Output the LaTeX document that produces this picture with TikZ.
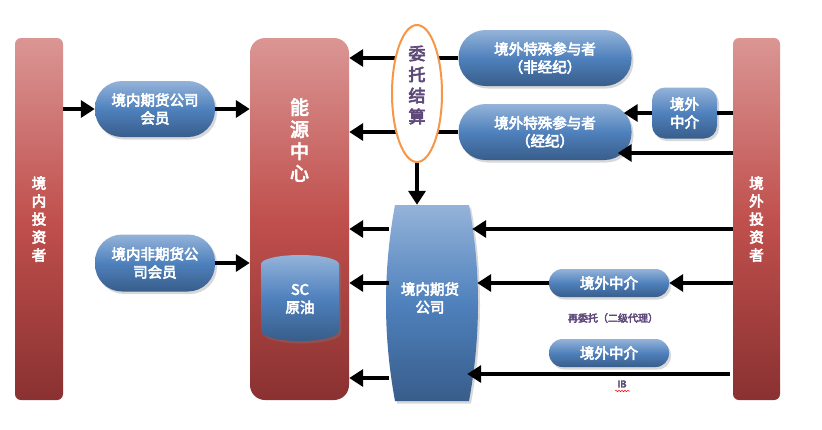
\documentclass[tikz,border=0pt]{standalone}
\usepackage{fontspec}
\setmainfont{Noto Sans CJK SC}[BoldFont={Noto Sans CJK SC}, BoldFeatures={FakeBold=4}]
\usetikzlibrary{arrows.meta,shapes.geometric,shadows,decorations.pathmorphing}
\definecolor{redtop}{HTML}{DA9694}
\definecolor{redmid}{HTML}{C0504D}
\definecolor{redbot}{HTML}{8A3131}
\definecolor{bluetop}{HTML}{94B3D9}
\definecolor{bluemid}{HTML}{4F81BD}
\definecolor{bluebot}{HTML}{385D8A}
\definecolor{purp}{HTML}{5F497A}
\definecolor{orng}{HTML}{F79646}
\begin{document}
\begin{tikzpicture}[x=1pt,y=-1pt,
  redbar/.style={rectangle, inner sep=0pt, top color=redtop, bottom color=redbot, middle color=redmid},
  bluebox/.style={rectangle, inner sep=0pt, top color=bluetop, bottom color=bluebot, middle color=bluemid,
     drop shadow={shadow xshift=2pt, shadow yshift=-2.5pt, opacity=0.3}},
  wtext/.style={text=white, align=center, font=\bfseries\fontsize{14.5}{18}\selectfont},
  ptext/.style={text=purp, align=center},
  flow/.style={line width=4.5pt, -{Triangle[length=14pt,width=17pt]}},
  plainline/.style={line width=4.5pt}]
\fill[white] (0,0) rectangle (822,429);
\useasboundingbox (0,0) rectangle (822,429);

% red bars
\node[redbar, rounded corners=6pt, minimum width=48pt, minimum height=362pt, wtext] (lb) at (39,219) {境\\内\\投\\资\\者};
\node[redbar, rounded corners=15pt, minimum width=99pt, minimum height=362pt] (ec) at (299.5,219) {};
\node[wtext, font=\bfseries\fontsize{19}{22}\selectfont] (ect) at (299.5,140) {能\\源\\中\\心};
\node[redbar, rounded corners=6pt, minimum width=47pt, minimum height=362pt, wtext] (rb) at (756.5,219) {境\\外\\投\\资\\者};

% SC cylinder
\path[top color=bluetop, bottom color=bluebot, middle color=bluemid,
      drop shadow={shadow xshift=2pt, shadow yshift=-2.5pt, opacity=0.3}]
  (261,264) -- (261,331) arc[start angle=180, end angle=0, x radius=39, y radius=10]
  -- (339,264) arc[start angle=0, end angle=-180, x radius=39, y radius=9] -- cycle;
\node[wtext] (sc) at (300,299) {SC\\原油};

% left members
\node[bluebox, rounded corners=27pt, minimum width=120pt, minimum height=56pt, wtext] (m1) at (155,109) {境内期货公司\\会员};
\node[bluebox, rounded corners=27pt, minimum width=120pt, minimum height=57pt, wtext] (m2) at (155,263) {境内非期货公\\司会员};

% special participants
\node[bluebox, rounded corners=27pt, minimum width=173pt, minimum height=56pt, wtext] (sp1) at (545,58) {境外特殊参与者\\（非经纪）};
\node[bluebox, rounded corners=27pt, minimum width=173pt, minimum height=56pt, wtext] (sp2) at (545,132) {境外特殊参与者\\（经纪）};
\node[bluebox, rounded corners=13pt, minimum width=65pt, minimum height=51pt, wtext] (im1) at (684.5,113) {境外\\中介};

% domestic futures company (barrel)
\path[top color=bluetop, bottom color=bluebot, middle color=bluemid,
      drop shadow={shadow xshift=2pt, shadow yshift=-2.5pt, opacity=0.3}]
  (395,205) -- (469,205) .. controls (481,270) and (481,336) .. (469,401)
  -- (395,401) .. controls (383,336) and (383,270) .. (395,205) -- cycle;
\node[minimum width=86pt, minimum height=196pt, inner sep=0pt] (dc) at (432,303) {};
\node[wtext] (dct) at (430,298) {境内期货\\公司};

% overseas intermediaries
\node[bluebox, rounded corners=13.5pt, minimum width=120pt, minimum height=28pt, wtext] (im2) at (609,283) {境外中介};
\node[bluebox, rounded corners=13.5pt, minimum width=120pt, minimum height=28pt, wtext] (im3) at (609,353) {境外中介};
\node[ptext, font=\bfseries\fontsize{10}{12}\selectfont] (rw) at (613,318) {再委托（二级代理）};
\node[ptext, font=\bfseries\fontsize{9.5}{11}\selectfont, inner sep=1pt] (ib) at (622,384) {IB};
\draw[red, line width=0.5pt, decorate, decoration={snake, amplitude=0.8pt, segment length=3pt}] (615,391) -- (630,391);

% connectors left
\draw[flow] (lb.east |- m1) -- (m1.west);
\draw[flow] (m1.east) -- (ec.west |- m1);
\draw[flow] (m2.east) -- (ec.west |- m2);

% special participants to energy center (through oval)
\draw[flow] (sp1.west) -- (ec.east |- sp1);
\draw[flow] (sp2.west) -- (ec.east |- sp2);

% oval
\node[ellipse, draw=orng, line width=2pt, fill=white, minimum width=50pt, minimum height=137pt, inner sep=0pt] (ov) at (417,93.5) {};
\node[ptext, font=\bfseries\fontsize{17}{21}\selectfont] (ovt) at (417,85) {委\\托\\结\\算};
\draw[flow] (ov.south) -- (ov.south |- dc.north);

% right side
\draw[plainline] (rb.west |- im1) -- (im1.east);
\draw[flow] (im1.west) -- ([xshift=-8pt]sp2.east |- im1);
\draw[flow] (rb.west |- 0,153) -- ([xshift=-14pt]sp2.east |- 0,153);

\draw[flow] (rb.west |- 0,229) -- ([xshift=-3pt]dc.east |- 0,229);
\draw[flow] (rb.west |- im2) -- (im2.east);
\draw[flow] (im2.west) -- ([xshift=2pt]dc.east |- im2);
\draw[flow] ([xshift=-3pt]rb.west |- 0,374) -- ([xshift=-8pt]dc.east |- 0,374);

% domestic company to energy center
\draw[flow] (dc.west |- 0,229) -- (ec.east |- 0,229);
\draw[flow] (dc.west |- 0,283) -- (ec.east |- 0,283);
\draw[flow] (dc.west |- 0,378) -- (ec.east |- 0,378);
\end{tikzpicture}
\end{document}
